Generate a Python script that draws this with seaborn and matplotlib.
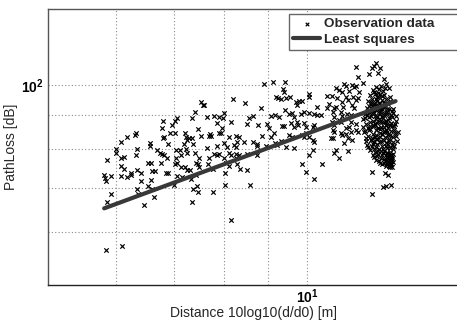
import numpy as np
import pandas as pd
import matplotlib
matplotlib.use('Agg')
import matplotlib.pyplot as plt
import seaborn as sns
from matplotlib.ticker import FixedLocator, FixedFormatter, NullFormatter

sns.set_theme(style='white')
plt.rcParams['font.family'] = ['Liberation Sans', 'DejaVu Sans']
plt.rcParams['mathtext.fontset'] = 'custom'
plt.rcParams['mathtext.rm'] = 'Liberation Sans'
plt.rcParams['mathtext.bf'] = 'Liberation Sans:bold'

# 观测数据 (距离, 路径损耗) —— 按区域读取
left_dist = [7.53, 7.57, 7.41, 7.35, 7.47, 7.53, 6.80, 7.06, 7.02, 6.96,
             6.78, 6.93, 7.02, 6.82, 6.80, 7.21, 7.23, 7.29, 7.35, 7.25,
             6.32, 6.31, 6.18, 6.08, 6.57, 6.57, 6.89, 7.19, 7.37, 6.00,
             6.00, 6.35, 6.69, 6.75, 6.78, 7.04, 7.12, 7.23, 7.25, 7.41,
             6.13, 6.08, 6.32, 6.82, 6.87, 7.04, 7.14, 7.49, 5.86]
left_loss = [94.3, 93.3, 91.0, 89.0, 85.9, 83.7, 88.2, 89.0, 88.2, 87.0,
             86.1, 84.6, 84.6, 83.4, 83.1, 84.6, 83.4, 83.1, 83.1, 82.5,
             84.6, 84.0, 83.4, 82.0, 81.7, 80.8, 81.4, 81.4, 81.4, 80.0,
             79.1, 80.0, 79.7, 79.1, 78.8, 79.7, 79.7, 80.0, 79.1, 79.1,
             78.0, 77.5, 78.3, 78.3, 77.7, 77.7, 78.3, 77.7, 77.2]

lowleft_dist = [5.81, 5.83, 5.84, 5.92, 5.92, 5.86, 6.08, 6.13, 6.08, 6.24,
                6.24, 6.18, 6.34, 6.41, 6.53, 6.58, 6.60, 6.66, 6.41, 6.58,
                6.53, 6.60, 6.34, 6.36, 6.64, 6.46, 6.76, 6.85, 6.89, 7.02,
                7.06, 7.06, 7.16, 7.14, 7.21, 7.25, 7.31, 7.43, 7.47, 7.49,
                7.43, 7.33, 7.45, 7.37, 7.47, 7.35, 7.00, 5.84, 6.10]
lowleft_loss = [73.1, 72.3, 71.6, 72.8, 68.6, 66.7, 75.4, 74.8, 72.8, 73.8,
                73.1, 72.6, 74.5, 73.8, 76.4, 76.4, 74.3, 74.3, 71.6, 71.8,
                70.4, 69.8, 69.6, 68.6, 67.7, 66.0, 76.4, 73.8, 73.8, 76.1,
                76.4, 72.8, 72.6, 75.1, 75.1, 74.5, 74.5, 76.4, 75.9, 75.1,
                73.1, 72.1, 70.4, 69.8, 69.1, 66.7, 70.8, 56.4, 57.2]

mid_dist = [8.91, 9.13, 9.43, 9.38, 9.40, 9.20, 9.25, 9.31, 9.45, 9.55,
            9.71, 9.79, 9.87, 9.74, 8.19, 8.47, 8.84, 9.43, 9.18, 9.08,
            9.28, 9.53, 9.61, 9.66, 9.84, 9.92, 8.66, 8.56, 8.01, 7.99,
            7.80, 7.90, 7.65, 7.59, 7.86, 8.16, 8.50, 8.77, 8.98, 9.03,
            9.40, 9.35, 9.58, 9.66, 9.74, 9.76, 9.92, 9.97, 7.97, 7.71,
            7.74, 7.69, 7.90, 7.95, 8.12, 8.27, 8.32, 8.86, 9.15, 9.08,
            9.53, 9.61, 9.87, 9.92, 9.97, 7.65, 7.86, 8.01, 8.07, 8.21,
            8.29, 8.27, 8.45, 8.66, 8.73, 8.75, 8.96, 9.18, 9.23, 9.31,
            9.66, 9.45, 7.80, 7.90, 7.86, 8.12, 8.16, 8.27, 8.34, 8.01,
            8.52, 8.75, 7.69, 8.27, 7.67, 7.78, 8.05, 8.12, 8.29, 8.36,
            8.50, 8.03, 8.03, 8.59, 7.78, 8.16, 9.87, 9.97]
mid_loss = [100.3, 101.1, 101.1, 98.6, 97.6, 95.9, 95.6, 95.2, 95.6, 95.9,
            94.3, 94.6, 94.6, 93.3, 95.2, 93.9, 92.3, 91.6, 90.0, 89.7,
            89.4, 90.3, 90.6, 89.4, 90.3, 91.0, 89.7, 89.1, 90.6, 89.1,
            89.7, 89.4, 89.4, 93.3, 87.6, 87.9, 87.3, 87.0, 87.3, 86.1,
            86.7, 86.7, 87.6, 86.4, 87.9, 87.0, 87.6, 86.4, 86.1, 84.3,
            83.7, 83.7, 84.6, 84.6, 83.4, 83.7, 83.4, 83.7, 84.6, 83.4,
            84.0, 83.4, 84.0, 83.4, 84.6, 80.3, 80.8, 81.7, 80.6, 81.1,
            82.0, 80.6, 82.0, 82.0, 80.8, 81.4, 80.8, 81.7, 81.1, 82.2,
            80.3, 80.6, 78.8, 78.8, 78.3, 79.1, 78.3, 78.8, 78.3, 77.7,
            78.8, 78.3, 77.5, 77.5, 76.1, 74.8, 76.4, 75.6, 76.1, 74.8,
            74.5, 73.6, 70.6, 70.8, 69.1, 62.6, 75.9, 74.0]

right_dist = [11.40, 11.96, 11.89, 12.03, 12.15, 12.09, 11.80, 11.46, 12.29, 11.59,
              11.28, 11.34, 11.40, 11.04, 11.10, 10.80, 10.89, 10.98, 11.19, 11.49,
              12.35, 12.45, 10.55, 10.67, 10.83, 11.10, 11.16, 11.31, 11.40, 11.46,
              10.05, 10.05, 10.25, 10.61, 10.55, 10.80, 10.98, 11.01, 10.75, 11.28,
              11.34, 10.05, 10.19, 10.27, 10.36, 10.70, 10.95, 10.75, 10.98, 11.13,
              11.25, 10.89, 10.95, 10.67, 10.75, 10.19, 10.14, 11.25, 11.40, 11.10,
              11.19, 10.70, 10.75, 10.95, 10.98, 11.10, 11.25, 11.40, 11.46, 10.05,
              10.14, 10.17, 10.64, 10.70, 11.16, 11.28, 11.04, 10.14, 10.75, 10.80,
              11.16, 10.89, 10.05, 10.39, 10.19, 11.89, 12.15, 12.22, 12.35, 12.48,
              12.52, 12.48, 12.32, 12.42, 12.52, 12.35, 12.25, 11.89]
right_loss = [106.5, 106.9, 106.1, 108.0, 105.8, 104.3, 103.9, 102.8, 102.1, 100.7,
              100.0, 99.3, 99.7, 100.3, 99.7, 99.0, 98.3, 97.6, 97.9, 97.6,
              100.3, 99.0, 96.2, 96.2, 95.6, 95.9, 94.9, 95.9, 94.9, 95.6,
              96.9, 95.9, 92.6, 93.6, 92.3, 92.6, 94.3, 92.6, 92.3, 93.3,
              92.3, 90.6, 90.3, 90.0, 90.0, 91.0, 91.0, 89.4, 89.7, 90.3,
              90.0, 88.5, 87.9, 87.9, 87.0, 87.0, 86.4, 87.9, 87.3, 86.1,
              86.4, 85.5, 84.9, 84.6, 84.0, 84.3, 84.9, 85.5, 84.9, 83.4,
              82.5, 82.0, 83.1, 83.1, 83.1, 82.5, 81.7, 79.7, 79.1, 79.7,
              79.4, 77.7, 78.3, 75.9, 72.1, 74.0, 76.4, 76.1, 75.6, 76.1,
              76.1, 75.1, 73.6, 73.3, 70.8, 70.4, 70.1, 68.6]

# 远端密集簇
cluster_dist = [12.02, 12.10, 12.18, 12.25, 11.95, 12.31, 12.08,
                11.82, 11.90, 11.98, 12.05, 12.12, 12.20, 12.27, 12.35, 12.42, 11.86, 12.00, 12.15, 12.48, 11.76,
                11.72, 11.80, 11.88, 11.94, 12.03, 12.09, 12.16, 12.22, 12.30, 12.36, 12.44, 12.52, 12.58, 11.68, 12.26, 11.99,
                11.62, 11.70, 11.78, 11.84, 11.91, 11.97, 12.04, 12.11, 12.18, 12.24, 12.29, 12.34, 12.40, 12.47, 12.53, 12.60, 12.66, 11.75, 12.07, 12.20, 11.87,
                11.64, 11.71, 11.79, 11.85, 11.93, 12.00, 12.06, 12.13, 12.19, 12.26, 12.32, 12.38, 12.45, 12.51, 12.57, 12.64, 12.70, 11.96, 12.16, 12.41,
                11.74, 11.82, 11.90, 11.98, 12.05, 12.12, 12.20, 12.27, 12.33, 12.39, 12.46, 12.53, 12.59, 12.02, 12.36,
                11.92, 12.00, 12.08, 12.17, 12.24, 12.30, 12.36, 12.40, 12.44, 12.48, 12.52, 12.55, 12.46, 12.38, 12.58,
                12.14, 11.93, 12.22, 12.04, 12.29,
                11.78, 11.85, 11.96, 12.07, 12.13, 12.19, 12.25, 12.33, 12.39, 12.46, 12.55, 11.91, 12.01, 12.10,
                11.66, 11.74, 11.83, 11.89, 11.98, 12.06, 12.13, 12.21, 12.27, 12.33, 12.39, 12.45, 12.50, 12.57, 12.63, 12.69, 11.93, 12.16, 12.36, 12.01,
                11.61, 11.68, 11.76, 11.82, 11.89, 11.95, 12.02, 12.09, 12.15, 12.22, 12.28, 12.35, 12.42, 12.48, 12.54, 12.61, 12.67, 12.73, 11.99, 12.31,
                11.70, 11.77, 11.86, 11.93, 12.00, 12.08, 12.15, 12.23, 12.29, 12.35, 12.42, 12.49, 12.56, 12.62, 11.96, 12.19, 12.45,
                11.95, 12.04, 12.12, 12.21, 12.27, 12.33, 12.39, 12.43, 12.47, 12.51, 12.54, 12.57, 12.42, 12.50, 12.36, 12.45, 12.53, 12.29]
cluster_loss = [99.2, 98.6, 99.6, 97.9, 97.6, 98.8, 97.3,
                96.4, 95.1, 96.8, 94.4, 95.7, 96.2, 94.0, 95.3, 93.6, 93.5, 93.2, 93.8, 96.0, 94.7,
                92.4, 91.1, 92.8, 90.6, 91.7, 92.6, 90.4, 91.9, 92.7, 90.9, 91.8, 90.2, 92.1, 90.5, 90.1, 92.9,
                88.7, 87.2, 89.5, 86.6, 88.3, 89.8, 87.5, 88.9, 86.3, 89.2, 87.8, 86.9, 88.6, 87.1, 89.4, 86.8, 88.2, 86.1, 86.0, 87.9, 89.9,
                84.8, 83.1, 85.6, 82.6, 84.2, 85.5, 83.0, 84.7, 82.3, 85.1, 83.6, 84.9, 82.8, 85.3, 83.5, 84.6, 82.4, 82.1, 85.9, 83.9,
                81.2, 79.8, 80.9, 79.3, 81.6, 80.2, 81.0, 79.5, 81.7, 80.4, 79.1, 81.3, 80.0, 80.6, 79.0,
                78.4, 77.2, 78.7, 77.6, 78.9, 76.9, 77.8, 76.5, 78.2, 77.0, 76.3, 77.9, 76.8, 77.2, 78.6,
                97.0, 98.2, 95.0, 95.9, 96.6,
                93.0, 94.1, 94.0, 93.4, 92.2, 93.1, 92.5, 93.9, 92.0, 94.6, 91.4, 91.6, 95.3, 91.3,
                89.2, 90.0, 88.0, 90.8, 87.3, 89.9, 87.8, 89.6, 90.7, 88.3, 90.4, 89.0, 87.6, 90.6, 87.4, 89.8, 86.9, 91.0, 87.2, 88.8,
                86.4, 85.2, 83.7, 85.9, 83.3, 86.8, 84.1, 86.2, 83.4, 84.4, 86.5, 85.5, 86.1, 84.0, 86.6, 85.6, 83.8, 85.0, 83.5, 84.8,
                82.2, 80.6, 82.5, 81.4, 82.9, 79.6, 81.9, 80.1, 82.6, 80.8, 81.5, 80.3, 82.1, 81.0, 80.2, 79.4, 82.4,
                77.9, 78.1, 76.9, 78.3, 77.4, 78.4, 76.2, 77.5, 78.0, 76.7, 77.3, 76.6, 78.9, 78.5, 75.9, 75.6, 75.3, 76.4]

# 最小二乘拟合线端点
fit_dist = [5.81, 12.66]
fit_loss = [65.2, 94.5]

obs = pd.DataFrame({
    'dist': left_dist + lowleft_dist + mid_dist + right_dist + cluster_dist,
    'loss': left_loss + lowleft_loss + mid_loss + right_loss + cluster_loss,
})
fit = pd.DataFrame({'dist': fit_dist, 'loss': fit_loss})

fig = plt.figure(figsize=(4.57, 3.23), dpi=100)
ax = fig.add_axes([48/457, 1-285/323, 411/457, 276/323])

sns.scatterplot(x='dist', y='loss', data=obs, marker='x', color='black', s=10,
                linewidth=0.85, ax=ax, label='Observation data', zorder=3)
sns.lineplot(x='dist', y='loss', data=fit, color='#383838', linewidth=3.0,
             ax=ax, label='Least squares', zorder=4)

ax.set_xscale('log')
ax.set_yscale('log')
ax.set_xlim(5, 15)
ax.set_ylim(50, 130)

ax.xaxis.set_major_locator(FixedLocator([10]))
ax.xaxis.set_major_formatter(FixedFormatter([r'$\mathbf{10^{1}}$']))
ax.xaxis.set_minor_locator(FixedLocator([6, 7, 8, 9]))
ax.xaxis.set_minor_formatter(NullFormatter())
ax.yaxis.set_major_locator(FixedLocator([100]))
ax.yaxis.set_major_formatter(FixedFormatter([r'$\mathbf{10^{2}}$']))
ax.yaxis.set_minor_locator(FixedLocator([60, 70, 80, 90]))
ax.yaxis.set_minor_formatter(NullFormatter())

ax.tick_params(which='both', direction='in', length=0, labelsize=10, colors='black')
ax.tick_params(axis='x', pad=2)
ax.tick_params(axis='y', pad=3)
ax.grid(which='both', linestyle=(0, (1, 2)), color='#8a8a8a', linewidth=0.8)

for side in ['left', 'top', 'bottom']:
    ax.spines[side].set_color('#555555')
    ax.spines[side].set_linewidth(1.0)
ax.spines['bottom'].set_color('#222222')
ax.spines['right'].set_visible(False)

ax.set_xlabel('Distance 10log10(d/d0) [m]', fontsize=10, labelpad=0)
ax.set_ylabel('PathLoss [dB]', fontsize=10, labelpad=2)

leg = ax.legend(loc='upper left', bbox_to_anchor=(289/457, 0, 1.05 - 289/457, 1 - 14/323),
                bbox_transform=fig.transFigure, mode='expand', borderaxespad=0,
                prop={'weight': 'bold', 'size': 9.7}, handlelength=2.0, handletextpad=0.3,
                labelspacing=0.2, borderpad=0.3, fancybox=False, framealpha=1,
                markerscale=0.8)
leg.get_frame().set_edgecolor('#666666')
leg.get_frame().set_linewidth(1.0)

fig.savefig('out.png', dpi=100)
